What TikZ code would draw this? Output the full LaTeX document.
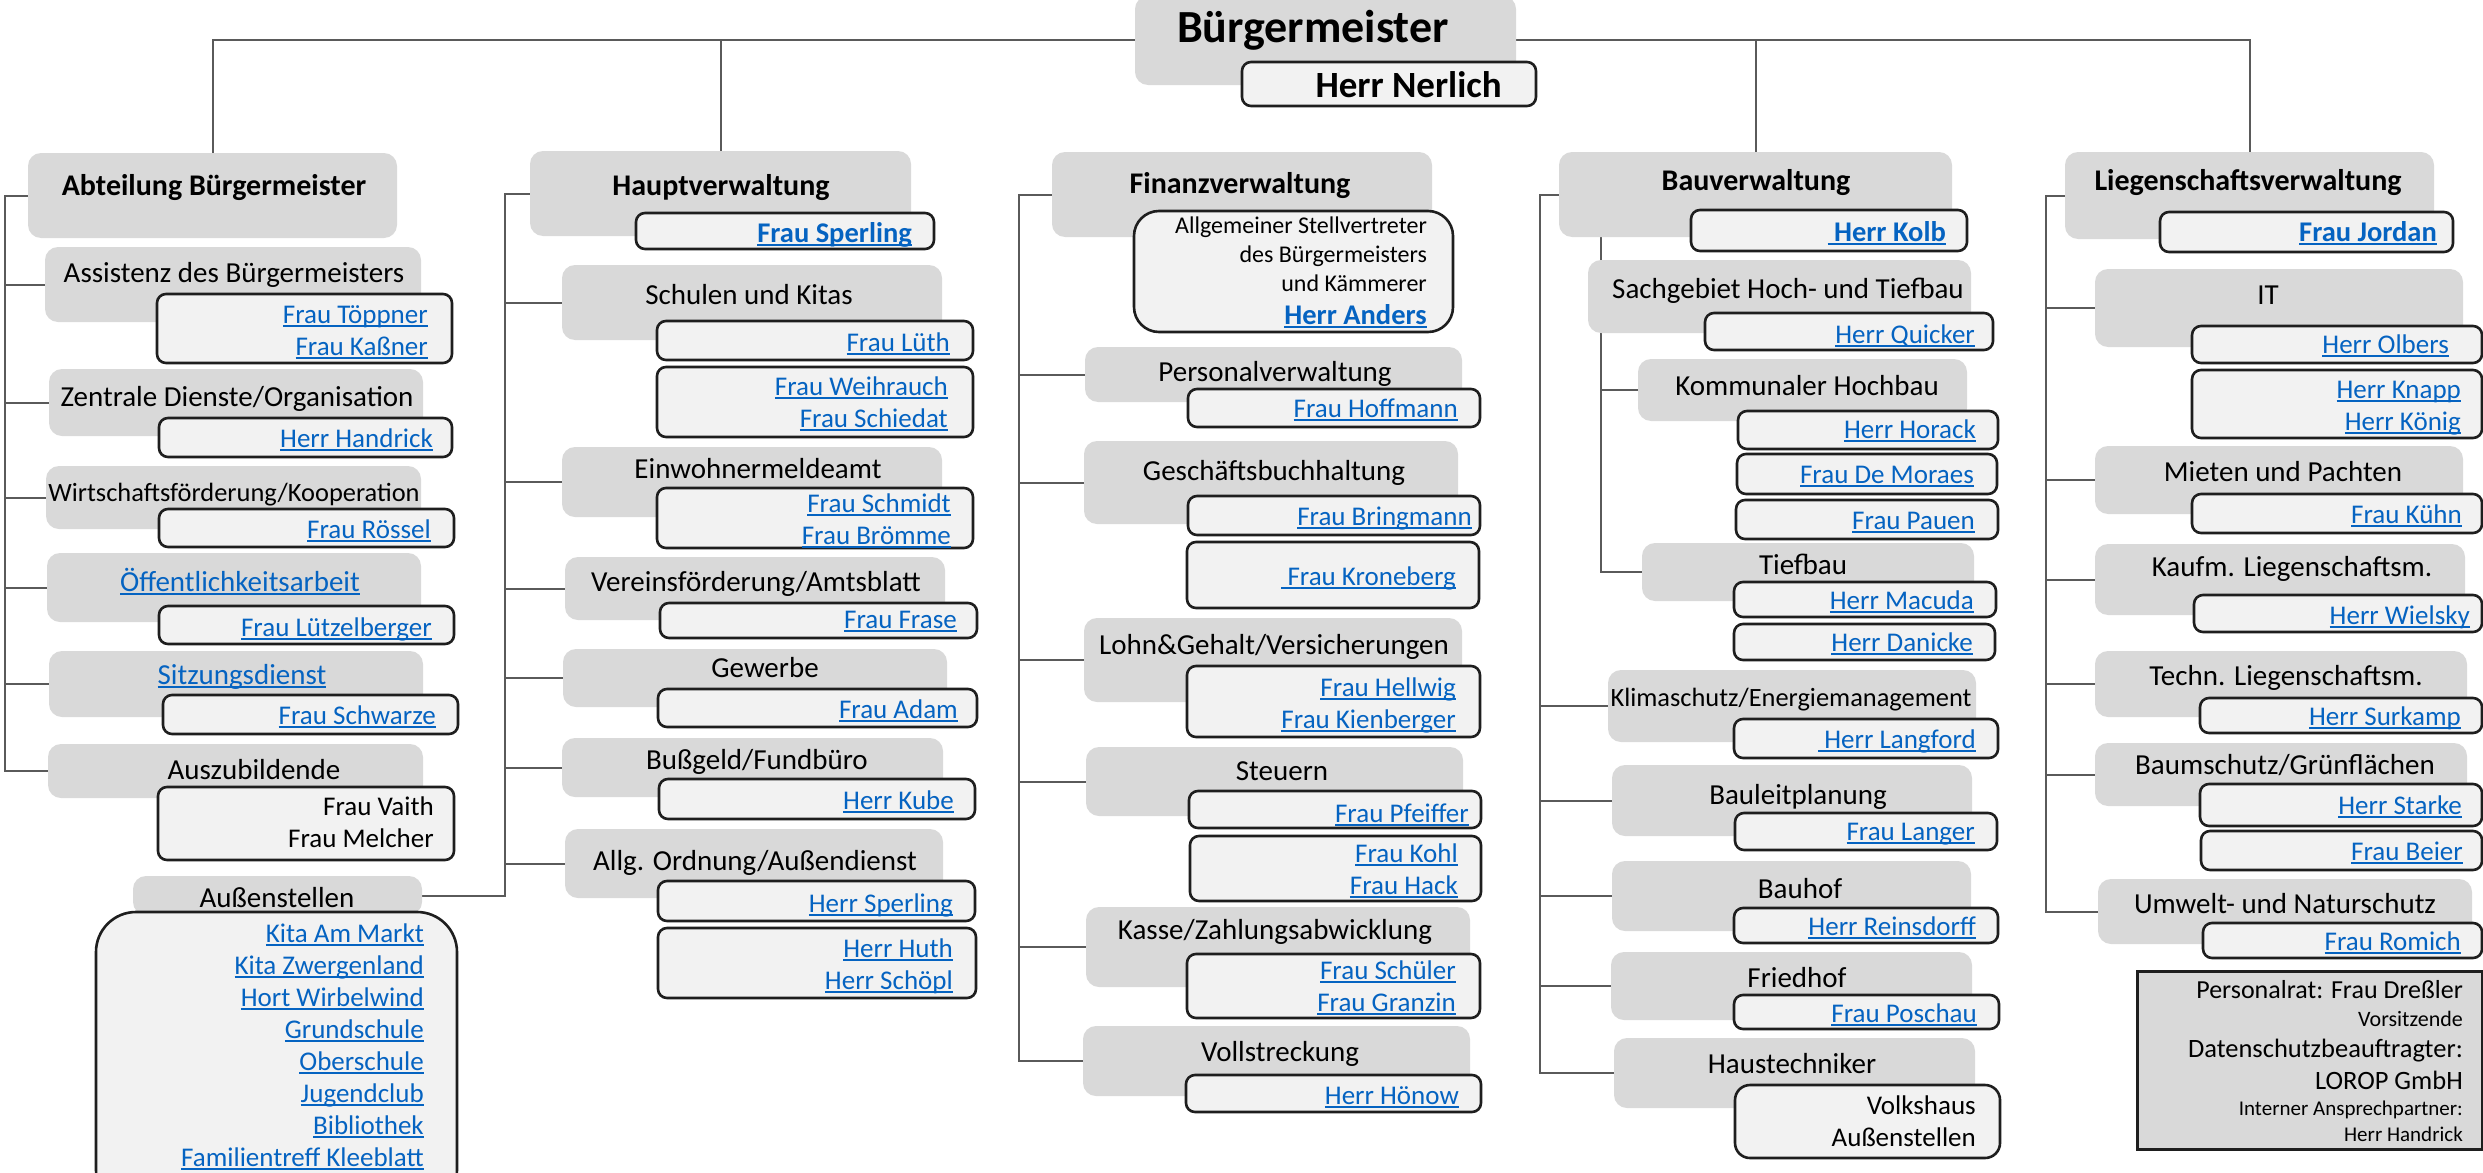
\documentclass[tikz,border=0pt]{standalone}
\usepackage{fontspec}
\setmainfont{Carlito}
\usetikzlibrary{fit,calc,backgrounds}

\definecolor{unitgray}{HTML}{D9D9D9}
\definecolor{staffgray}{HTML}{F2F2F2}
\definecolor{linkblue}{HTML}{0563C1}
\definecolor{connline}{HTML}{5A5A5A}
\definecolor{boxline}{HTML}{1E1E1E}

% underlined link text (a leading space is underlined as well)
\newcommand{\lnk}[1]{{\color{linkblue}\setbox0=\hbox{#1}\rlap{\rule[-4pt]{\wd0}{2pt}}\box0}}

% one right aligned name per line, 32px apart
\newcommand{\staffnames}[4]{%
  \foreach \nm [count=\i from 0] in {#4}
    \node[sname] (#1-\i) at (#2,{#3+32*\i}) {\nm};
}

\tikzset{
  unit/.style={fill=unitgray, rounded corners=13pt, inner sep=0pt},
  staff/.style={draw=boxline, line width=2.6pt, fill=staffgray, rounded corners=9pt, inner sep=0pt},
  ulabel/.style={anchor=base, inner sep=0pt, font=\fontsize{29}{32}\selectfont},
  usmall/.style={ulabel, font=\fontsize{26.4}{30}\selectfont},
  utitle/.style={ulabel, font=\fontsize{30}{32}\selectfont\bfseries},
  sname/.style={anchor=base east, inner sep=0pt, font=\fontsize{27}{32}\selectfont},
  shead/.style={sname, font=\fontsize{28.5}{32}\selectfont\bfseries},
  conn/.style={draw=connline, line width=2pt},
}

\begin{document}
\begin{tikzpicture}[x=1pt, y=-1pt]
\useasboundingbox (0,0) rectangle (2483,1172);

% Buergermeister
\node[unit, fit={(1135,-4) (1516,85)}] (bm) {};
\node[ulabel, font=\fontsize{46}{48}\selectfont\bfseries] (bm-t) at (1313,43) {Bürgermeister};
\node[staff, fit={(1242,62) (1536,106)}] (bm-p) {};
\node[sname, font=\fontsize{37}{40}\selectfont\bfseries] (bm-n) at (1502,97) {Herr Nerlich};

% Abteilung Buergermeister
\node[unit, fit={(28,153) (397,238)}] (abt) {};
\node[utitle] (abt-t) at (214,195) {Abteilung Bürgermeister};
\node[unit, fit={(45,247) (421,322)}] (ass) {};
\node[ulabel] (ass-t) at (234,282) {Assistenz des Bürgermeisters};
\node[staff, fit={(157,294) (452,363)}] (ass-p) {};
\staffnames{ass-n}{428}{323}{\lnk{Frau Töppner}, \lnk{Frau Kaßner}}
\node[unit, fit={(49,369) (423,436)}] (zen) {};
\node[ulabel] (zen-t) at (237,406) {Zentrale Dienste/Organisation};
\node[staff, fit={(159,418) (452,457)}] (zen-p) {};
\staffnames{zen-n}{433}{447}{\lnk{Herr Handrick}}
\node[unit, fit={(46,466) (421,529)}] (wir) {};
\node[staff, fit={(159,509) (454,547)}] (wir-p) {};
\staffnames{wir-n}{431}{538}{\lnk{Frau Rössel}}
\node[unit, fit={(47,553) (421,622)}] (oef) {};
\node[ulabel] (oef-t) at (240,591) {\lnk{Öffentlichkeitsarbeit}};
\node[staff, fit={(159,606) (454,644)}] (oef-p) {};
\staffnames{oef-n}{432}{636}{\lnk{Frau Lützelberger}}
\node[unit, fit={(49,651) (423,717)}] (sit) {};
\node[ulabel] (sit-t) at (242,684) {\lnk{Sitzungsdienst}};
\node[staff, fit={(163,695) (458,734)}] (sit-p) {};
\staffnames{sit-n}{436}{724}{\lnk{Frau Schwarze}}
\node[unit, fit={(48,744) (423,798)}] (azu) {};
\node[ulabel] (azu-t) at (254,779) {Auszubildende};
\node[staff, fit={(158,787) (454,860)}] (azu-p) {};
\staffnames{azu-n}{434}{815}{Frau Vaith, Frau Melcher}
\node[unit, fit={(133,876) (422,915)}] (aus) {};
\node[ulabel] (aus-t) at (277,907) {Außenstellen};
\node[staff, rounded corners=40pt, fit={(96,912) (457,1210)}] (aus-p) {};
\staffnames{aus-n}{424}{942}{\lnk{Kita Am Markt}, \lnk{Kita Zwergenland}, \lnk{Hort Wirbelwind}, \lnk{Grundschule}, \lnk{Oberschule}, \lnk{Jugendclub}, \lnk{Bibliothek}, \lnk{Familientreff Kleeblatt}}

% Hauptverwaltung
\node[unit, fit={(530,151) (911,236)}] (hpt) {};
\node[utitle] (hpt-t) at (721,195) {Hauptverwaltung};
\node[staff, fit={(636,213) (934,249)}] (hpt-p) {};
\node[shead] (hpt-n) at (912,242) {\lnk{Frau Sperling}};
\node[unit, fit={(562,265) (942,340)}] (sch) {};
\node[ulabel] (sch-t) at (749,304) {Schulen und Kitas};
\node[staff, fit={(657,321) (973,360)}] (sch-p1) {};
\staffnames{sch-n1}{950}{351}{\lnk{Frau Lüth}}
\node[staff, fit={(657,367) (973,437)}] (sch-p2) {};
\staffnames{sch-n2}{948}{395}{\lnk{Frau Weihrauch}, \lnk{Frau Schiedat}}
\node[unit, fit={(562,447) (942,517)}] (ewo) {};
\node[ulabel] (ewo-t) at (758,478) {Einwohnermeldeamt};
\node[staff, fit={(657,488) (973,548)}] (ewo-p) {};
\staffnames{ewo-n}{951}{512}{\lnk{Frau Schmidt}, \lnk{Frau Brömme}}
\node[unit, fit={(565,557) (945,620)}] (ver) {};
\node[ulabel] (ver-t) at (756,591) {Vereinsförderung/Amtsblatt};
\node[staff, fit={(660,603) (977,638)}] (ver-p) {};
\staffnames{ver-n}{957}{628}{\lnk{Frau Frase}}
\node[unit, fit={(563,649) (947,707)}] (gew) {};
\node[ulabel] (gew-t) at (765,677) {Gewerbe};
\node[staff, fit={(658,689) (977,727)}] (gew-p) {};
\staffnames{gew-n}{958}{718}{\lnk{Frau Adam}}
\node[unit, fit={(562,738) (943,797)}] (bgf) {};
\node[ulabel] (bgf-t) at (757,769) {Bußgeld/Fundbüro};
\node[staff, fit={(659,779) (975,819)}] (bgf-p) {};
\staffnames{bgf-n}{954}{809}{\lnk{Herr Kube}}
\node[unit, fit={(565,829) (943,898)}] (ord) {};
\node[ulabel] (ord-t) at (755,870) {Allg. Ordnung/Außendienst};
\node[staff, fit={(658,881) (975,921)}] (ord-p1) {};
\staffnames{ord-n1}{953}{912}{\lnk{Herr Sperling}}
\node[staff, fit={(658,928) (976,998)}] (ord-p2) {};
\staffnames{ord-n2}{953}{957}{\lnk{Herr Huth}, \lnk{Herr Schöpl}}

% Finanzverwaltung
\node[unit, fit={(1052,152) (1432,237)}] (fin) {};
\node[utitle] (fin-t) at (1240,193) {Finanzverwaltung};
\node[staff, rounded corners=25pt, fit={(1134,211) (1453,332)}] (fin-p) {};
\staffnames{fin-n}{1427}{233}{{\fontsize{24}{29}\selectfont Allgemeiner Stellvertreter}}
\node[sname, font=\fontsize{24}{29}\selectfont] (fin-n1) at (1427,262) {des Bürgermeisters};
\node[sname, font=\fontsize{24}{29}\selectfont] (fin-n2) at (1427,291) {und Kämmerer};
\node[shead] (fin-n3) at (1427,324) {\lnk{Herr Anders}};
\node[unit, fit={(1085,347) (1462,402)}] (per) {};
\node[ulabel] (per-t) at (1275,381) {Personalverwaltung};
\node[staff, fit={(1188,389) (1480,427)}] (per-p) {};
\staffnames{per-n}{1458}{417}{\lnk{Frau Hoffmann}}
\node[unit, fit={(1084,441) (1458,524)}] (ges) {};
\node[ulabel] (ges-t) at (1274,480) {Geschäftsbuchhaltung};
\node[staff, fit={(1188,496) (1480,535)}] (ges-p1) {};
\staffnames{ges-n1}{1472}{525}{\lnk{Frau Bringmann}}
\node[staff, fit={(1187,542) (1479,608)}] (ges-p2) {};
\staffnames{ges-n2}{1456}{585}{\lnk{\ Frau Kroneberg}}
\node[unit, fit={(1084,618) (1462,702)}] (loh) {};
\node[ulabel] (loh-t) at (1274,654) {Lohn\&Gehalt/Versicherungen};
\node[staff, fit={(1187,666) (1480,737)}] (loh-p) {};
\staffnames{loh-n}{1456}{696}{\lnk{Frau Hellwig}, \lnk{Frau Kienberger}}
\node[unit, fit={(1086,747) (1463,816)}] (ste) {};
\node[ulabel] (ste-t) at (1282,780) {Steuern};
\node[staff, fit={(1189,791) (1481,828)}] (ste-p1) {};
\staffnames{ste-n1}{1469}{822}{\lnk{Frau Pfeiffer}}
\node[staff, fit={(1190,836) (1481,901)}] (ste-p2) {};
\staffnames{ste-n2}{1458}{862}{\lnk{Frau Kohl}, \lnk{Frau Hack}}
\node[unit, fit={(1086,907) (1470,987)}] (kas) {};
\node[ulabel] (kas-t) at (1275,939) {Kasse/Zahlungsabwicklung};
\node[staff, fit={(1187,954) (1480,1018)}] (kas-p) {};
\staffnames{kas-n}{1456}{979}{\lnk{Frau Schüler}, \lnk{Frau Granzin}}
\node[unit, fit={(1083,1026) (1470,1096)}] (vol) {};
\node[ulabel] (vol-t) at (1280,1061) {Vollstreckung};
\node[staff, fit={(1186,1075) (1481,1112)}] (vol-p) {};
\staffnames{vol-n}{1459}{1104}{\lnk{Herr Hönow}}

% Bauverwaltung
\node[unit, fit={(1559,152) (1952,237)}] (bau) {};
\node[utitle] (bau-t) at (1756,190) {Bauverwaltung};
\node[staff, fit={(1691,210) (1967,251)}] (bau-p) {};
\node[shead] (bau-n) at (1946,241) {\lnk{\ Herr Kolb}};
\node[unit, fit={(1588,260) (1971,333)}] (sgb) {};
\node[ulabel] (sgb-t) at (1788,298) {Sachgebiet Hoch- und Tiefbau};
\node[staff, fit={(1705,313) (1993,350)}] (sgb-p) {};
\staffnames{sgb-n}{1975}{343}{\lnk{Herr Quicker}}
\node[unit, fit={(1638,359) (1967,421)}] (kom) {};
\node[ulabel] (kom-t) at (1807,395) {Kommunaler Hochbau};
\node[staff, fit={(1738,411) (1998,449)}] (kom-p1) {};
\staffnames{kom-n1}{1976}{438}{\lnk{Herr Horack}}
\node[staff, fit={(1737,454) (1997,494)}] (kom-p2) {};
\staffnames{kom-n2}{1974}{483}{\lnk{Frau De Moraes}}
\node[staff, fit={(1736,500) (1998,539)}] (kom-p3) {};
\staffnames{kom-n3}{1975}{529}{\lnk{Frau Pauen}}
\node[unit, fit={(1642,543) (1974,601)}] (tie) {};
\node[ulabel] (tie-t) at (1803,574) {Tiefbau};
\node[staff, fit={(1734,582) (1996,617)}] (tie-p1) {};
\staffnames{tie-n1}{1974}{609}{\lnk{Herr Macuda}}
\node[staff, fit={(1734,624) (1995,660)}] (tie-p2) {};
\staffnames{tie-n2}{1973}{651}{\lnk{Herr Danicke}}
\node[unit, fit={(1608,670) (1976,742)}] (kli) {};
\node[staff, fit={(1734,719) (1998,758)}] (kli-p) {};
\staffnames{kli-n}{1976}{748}{\lnk{\ Herr Langford}}
\node[unit, fit={(1612,765) (1972,836)}] (blp) {};
\node[ulabel] (blp-t) at (1798,804) {Bauleitplanung};
\node[staff, fit={(1735,813) (1997,850)}] (blp-p) {};
\staffnames{blp-n}{1975}{840}{\lnk{Frau Langer}}
\node[unit, fit={(1612,861) (1971,931)}] (bhf) {};
\node[ulabel] (bhf-t) at (1800,898) {Bauhof};
\node[staff, fit={(1734,908) (1998,943)}] (bhf-p) {};
\staffnames{bhf-n}{1976}{935}{\lnk{Herr Reinsdorff}}
\node[unit, fit={(1611,952) (1972,1020)}] (fri) {};
\node[ulabel] (fri-t) at (1797,987) {Friedhof};
\node[staff, fit={(1734,995) (1999,1029)}] (fri-p) {};
\staffnames{fri-n}{1977}{1022}{\lnk{Frau Poschau}}
\node[unit, fit={(1614,1038) (1975,1108)}] (hau) {};
\node[ulabel] (hau-t) at (1792,1073) {Haustechniker};
\node[staff, rounded corners=15pt, fit={(1735,1085) (2000,1158)}] (hau-p) {};
\staffnames{hau-n}{1976}{1114}{Volkshaus, Außenstellen}

% Liegenschaftsverwaltung
\node[unit, fit={(2065,152) (2434,239)}] (lie) {};
\node[utitle] (lie-t) at (2248,190) {Liegenschaftsverwaltung};
\node[staff, fit={(2160,212) (2453,252)}] (lie-p) {};
\node[shead] (lie-n) at (2437,241) {\lnk{Frau Jordan}};
\node[unit, fit={(2095,269) (2463,347)}] (it) {};
\node[ulabel] (it-t) at (2268,304) {IT};
\node[staff, fit={(2192,326) (2482,363)}] (it-p1) {};
\staffnames{it-n1}{2449}{353}{\lnk{Herr Olbers}}
\node[staff, fit={(2192,370) (2482,438)}] (it-p2) {};
\staffnames{it-n2}{2461}{398}{\lnk{Herr Knapp}, \lnk{Herr König}}
\node[unit, fit={(2095,446) (2463,514)}] (mie) {};
\node[ulabel] (mie-t) at (2283,481) {Mieten und Pachten};
\node[staff, fit={(2192,494) (2482,533)}] (mie-p) {};
\staffnames{mie-n}{2462}{523}{\lnk{Frau Kühn}}
\node[unit, fit={(2095,544) (2465,615)}] (kfm) {};
\node[ulabel] (kfm-t) at (2292,576) {Kaufm. Liegenschaftsm.};
\node[staff, fit={(2194,595) (2482,632)}] (kfm-p) {};
\staffnames{kfm-n}{2470}{624}{\lnk{Herr Wielsky}}
\node[unit, fit={(2095,651) (2467,717)}] (tec) {};
\node[ulabel] (tec-t) at (2286,685) {Techn. Liegenschaftsm.};
\node[staff, fit={(2200,698) (2482,733)}] (tec-p) {};
\staffnames{tec-n}{2461}{725}{\lnk{Herr Surkamp}}
\node[unit, fit={(2095,743) (2467,806)}] (bms) {};
\node[ulabel] (bms-t) at (2285,774) {Baumschutz/Grünflächen};
\node[staff, fit={(2200,784) (2482,826)}] (bms-p1) {};
\staffnames{bms-n1}{2462}{814}{\lnk{Herr Starke}}
\node[staff, fit={(2201,831) (2482,870)}] (bms-p2) {};
\staffnames{bms-n2}{2463}{860}{\lnk{Frau Beier}}
\node[unit, fit={(2098,879) (2472,944)}] (umw) {};
\node[ulabel] (umw-t) at (2285,913) {Umwelt- und Naturschutz};
\node[staff, fit={(2203,923) (2482,958)}] (umw-p) {};
\staffnames{umw-n}{2461}{950}{\lnk{Frau Romich}}

% Personalrat / Datenschutz
\node[fill=unitgray, draw=boxline, line width=3pt, inner sep=0pt, fit={(2137,971) (2482,1149)}] (prt) {};
\node[sname, font=\fontsize{26}{30}\selectfont] (prt-1) at (2463,998) {Personalrat: Frau Dreßler};
\node[sname, font=\fontsize{22}{26}\selectfont] (prt-2) at (2463,1026) {Vorsitzende};
\node[sname, font=\fontsize{26.5}{30}\selectfont] (prt-3) at (2463,1057) {Datenschutzbeauftragter:};
\node[sname, font=\fontsize{26.5}{30}\selectfont] (prt-4) at (2463,1089) {LOROP GmbH};
\node[sname, font=\fontsize{21}{26}\selectfont] (prt-5) at (2463,1115) {Interner Ansprechpartner:};
\node[sname, font=\fontsize{21}{26}\selectfont] (prt-6) at (2463,1141) {Herr Handrick};

% texts laid over the connector lines
\node[usmall] (wir-t) at (234,501) {Wirtschaftsförderung/Kooperation};
\node[usmall] (kli-t) at (1791,706) {Klimaschutz/Energiemanagement};

% connectors
\coordinate (bus1) at (5,0);
\coordinate (bus2) at (505,0);
\coordinate (bus3) at (1019,0);
\coordinate (bus4) at (1540,0);
\coordinate (bus4b) at (1601,0);
\coordinate (bus5) at (2046,0);
\begin{scope}[on background layer]
  \fill[white] (0,0) rectangle (2483,1172);
  \draw[conn] (abt.north) -- (abt.north |- bm.west) -- (lie.north |- bm.west) -- (lie.north);
  \draw[conn] (hpt.north |- bm.west) -- (hpt.north);
  \draw[conn] ($(fin.north west)+(42,0)$ |- bm.west) -- ($(fin.north west)+(42,0)$);
  \draw[conn] (bau.north |- bm.west) -- (bau.north);
  % Abteilung Buergermeister
  \draw[conn] (abt.west) -- (abt.west -| bus1) -- (bus1 |- azu.west) -- (azu.west);
  \foreach \u in {ass,zen,wir,oef,sit}
    \draw[conn] (bus1 |- \u.west) -- (\u.west);
  % Hauptverwaltung
  \draw[conn] (hpt.west) -- (hpt.west -| bus2) -- (bus2 |- aus.east) -- (aus.east);
  \foreach \u in {sch,ewo,ver,gew,bgf,ord}
    \draw[conn] (bus2 |- \u.west) -- (\u.west);
  % Finanzverwaltung
  \draw[conn] (fin.west) -- (fin.west -| bus3) -- (bus3 |- vol.west) -- (vol.west);
  \foreach \u in {per,ges,loh,ste,kas}
    \draw[conn] (bus3 |- \u.west) -- (\u.west);
  % Bauverwaltung
  \draw[conn] (bau.west) -- (bau.west -| bus4) -- (bus4 |- hau.west) -- (hau.west);
  \foreach \u in {kli,blp,bhf,fri}
    \draw[conn] (bus4 |- \u.west) -- (\u.west);
  \draw[conn] (bau.south -| bus4b) -- (sgb.north -| bus4b);
  \draw[conn] (sgb.south -| bus4b) -- (bus4b |- tie.west) -- (tie.west);
  \draw[conn] (bus4b |- kom.west) -- (kom.west);
  % Liegenschaftsverwaltung
  \draw[conn] (lie.west) -- (lie.west -| bus5) -- (bus5 |- umw.west) -- (umw.west);
  \foreach \u in {it,mie,kfm,tec,bms}
    \draw[conn] (bus5 |- \u.west) -- (\u.west);
\end{scope}
\end{tikzpicture}
\end{document}
